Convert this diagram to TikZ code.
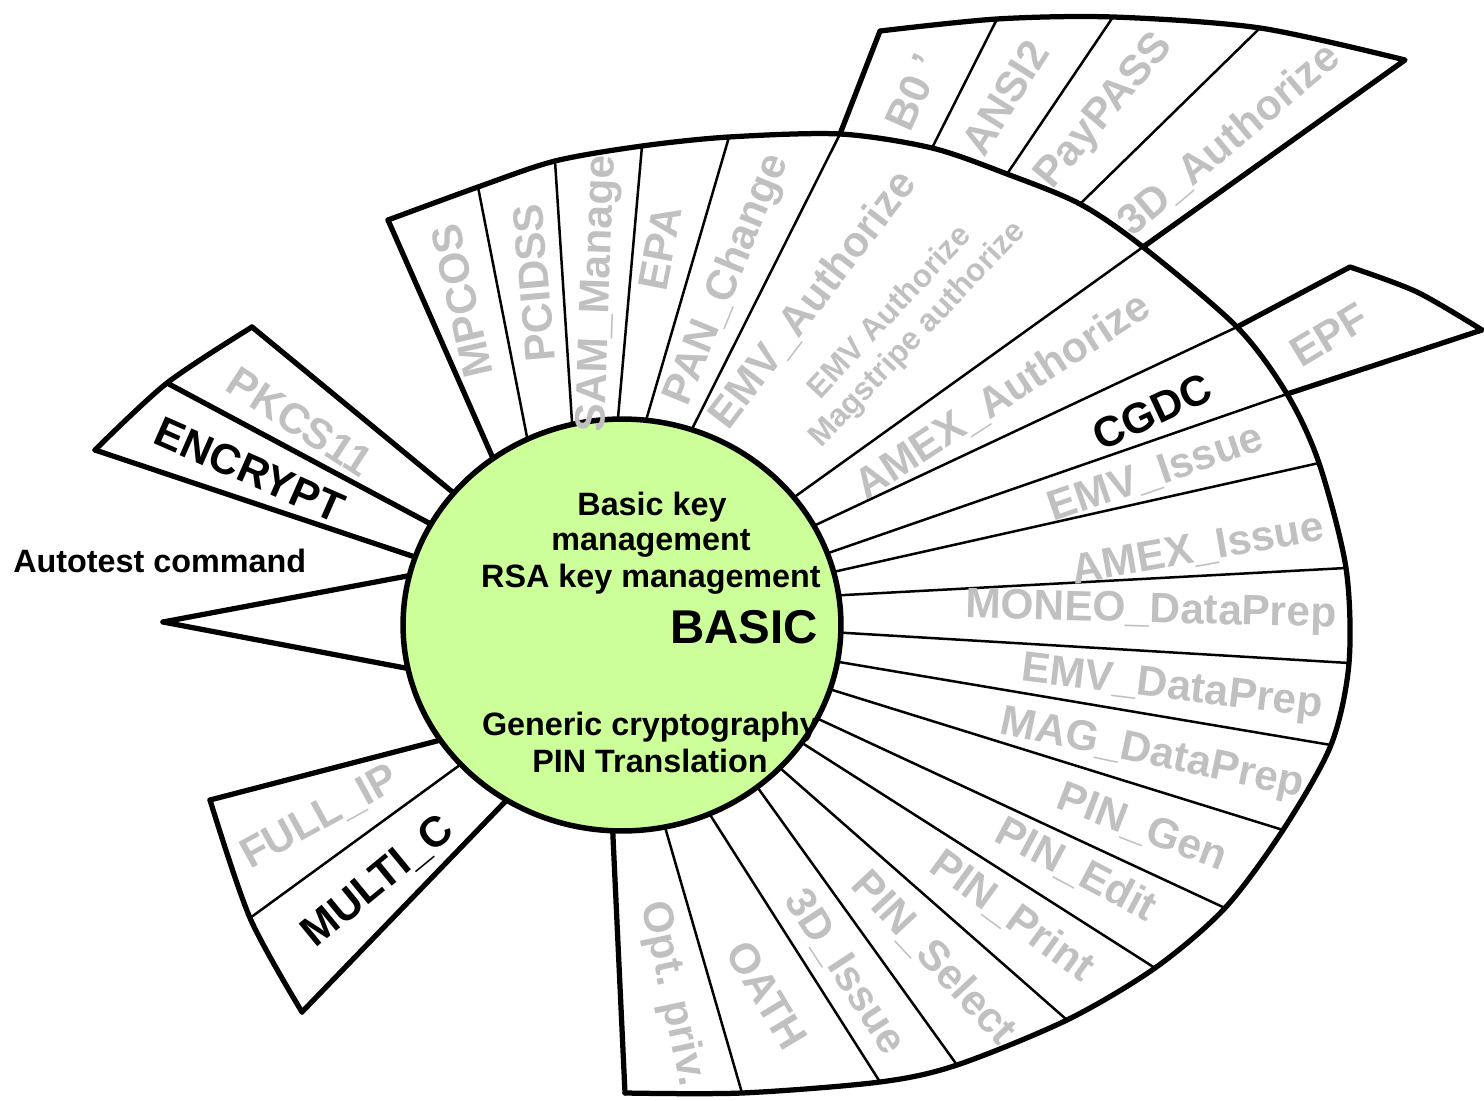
\documentclass[tikz,border=0pt]{standalone}
\usepackage{fontspec}
\setmainfont{Liberation Sans}
\definecolor{lblgray}{RGB}{192,192,192}
\definecolor{corefill}{RGB}{204,255,153}
\begin{document}
\begin{tikzpicture}[x=0.02cm, y=-0.02cm,
  edgeheavy/.style={line width=0.105cm, line join=round, line cap=round},
  edgefine/.style={line width=0.05cm},
  inward/.style={shorten <=-0.3cm},
  cmdlabel/.style={text=lblgray, font=\bfseries\fontsize{24.2}{28}\selectfont, inner sep=0pt},
  cmdactive/.style={text=black, font=\bfseries\fontsize{24.2}{28}\selectfont, inner sep=0pt},
  sublabel/.style={text=lblgray, font=\bfseries\fontsize{18}{21}\selectfont, inner sep=0pt},
  corelabel/.style={text=black, font=\bfseries\fontsize{18.4}{21}\selectfont, inner sep=0pt, anchor=base},
]
\useasboundingbox (0,0) rectangle (1484,1101);

% ---------- points on the outer rim of the fan ----------
\coordinate (o1) at (388,220);
\coordinate (o2) at (478,187);
\coordinate (o3) at (555,161);
\coordinate (o4) at (642,146);
\coordinate (o5) at (729,137);
\coordinate (o6) at (840,134);
\coordinate (o7) at (932,148);
\coordinate (o8) at (1007,174);
\coordinate (o9) at (1080,204);
\coordinate (o10) at (1143,247);
\coordinate (o11) at (1237,327);
\coordinate (o12) at (1287,394);
\coordinate (o13) at (1319,463);
\coordinate (o14) at (1346,568);
\coordinate (o16) at (1349,663);
\coordinate (o17) at (1331,745);
\coordinate (o18) at (1283,830);
\coordinate (o19) at (1225,908);
\coordinate (o20) at (1155,968);
\coordinate (o21) at (1067,1020);
\coordinate (o22) at (957,1065);
\coordinate (o23) at (880,1082);
\coordinate (o24) at (742,1093);
\coordinate (o25) at (625,1093);

% ---------- points where the spokes meet the core ----------
\coordinate (i1) at (488,447);
\coordinate (i2) at (527,437);
\coordinate (i3) at (572,422);
\coordinate (i4) at (618,418);
\coordinate (i5) at (647,417);
\coordinate (i6) at (693,427);
\coordinate (i10) at (800,493);
\coordinate (i11) at (822,522);
\coordinate (i12) at (837,550);
\coordinate (i13) at (842,570);
\coordinate (i14) at (845,595);
\coordinate (i16) at (847,633);
\coordinate (i17) at (845,663);
\coordinate (i18) at (842,693);
\coordinate (i19) at (827,723);
\coordinate (i20) at (810,748);
\coordinate (i21) at (788,775);
\coordinate (i22) at (763,795);
\coordinate (i23) at (714,821);
\coordinate (i24) at (667,834);
\coordinate (i25) at (613,837);

% ---------- thin spokes ----------
\foreach \k in {2,3,4,5,6,10,11,12,13,14,16,17,18,19,20,21,22,23,24}
  \draw[edgefine, inward] (i\k) -- (o\k);

% ---------- heavy side edges of the fan ----------
\draw[edgeheavy, inward] (i1) -- (o1);
\draw[edgeheavy, inward] (i25) -- (o25);

% ---------- outer rim ----------
\draw[edgeheavy] plot[smooth, tension=0.5] coordinates {(o1) (o2) (o3) (o4) (o5) (o6) (o7) (o8) (o9) (o10) (o11) (o12) (o13) (o14) (o16) (o17) (o18) (o19) (o20) (o21) (o22) (o23) (o24) (o25)};

% ---------- upper extension box ----------
\coordinate (b1) at (880,31);
\coordinate (b2) at (997,19);
\coordinate (b3) at (1113,17);
\coordinate (b4) at (1260,28);
\coordinate (b5) at (1405,60);
\draw[edgefine] (o7) -- (b2);
\draw[edgefine] (o8) -- (b3);
\draw[edgefine] (o9) -- (b4);
\draw[edgeheavy] (o6) -- (b1) plot[smooth, tension=0.5] coordinates {(b1) (b2) (b3) (b4) (b5)} -- (o10);

% ---------- EPF box ----------
\coordinate (e1) at (1350,267);
\coordinate (e2) at (1417,292);
\coordinate (e3) at (1482,330);
\draw[edgeheavy] (o11) -- (e1) plot[smooth, tension=0.5] coordinates {(e1) (e2) (e3)} -- (o12);

% ---------- PKCS11 / ENCRYPT box ----------
\coordinate (p1in) at (450,490);
\coordinate (p2in) at (427,522);
\coordinate (p3in) at (403,553);
\coordinate (p1) at (252,327);
\coordinate (p2) at (167,383);
\coordinate (p3) at (95,450);
\draw[edgeheavy, inward] (p1in) -- (p1);
\draw[edgeheavy, inward] (p2in) -- (p2);
\draw[edgeheavy, inward] (p3in) -- (p3);
\draw[edgeheavy] plot[smooth, tension=0.5] coordinates {(p1) (p2) (p3)};

% ---------- autotest wedge ----------
\coordinate (a1) at (402,577);
\coordinate (a2) at (400,667);
\coordinate (atip) at (163,622);
\draw[edgeheavy, inward] (a1) -- (atip);
\draw[edgeheavy, inward] (a2) -- (atip);

% ---------- FULL_IP / MULTI_C box ----------
\coordinate (f1in) at (433,742);
\coordinate (f2in) at (453,770);
\coordinate (f3in) at (500,807);
\coordinate (f1) at (210,800);
\coordinate (f2) at (250,918);
\coordinate (f3) at (302,1012);
\draw[edgeheavy, inward] (f1in) -- (f1);
\draw[edgefine, inward] (f2in) -- (f2);
\draw[edgeheavy, inward] (f3in) -- (f3);
\draw[edgeheavy] plot[smooth, tension=0.5] coordinates {(f1) (f2) (f3)};

% ---------- core ----------
\fill[corefill] (622,625) ellipse [x radius=4.38cm, y radius=4.12cm];
\node[corelabel] (k1) at (652,515) {Basic key};
\node[corelabel] (k2) at (651,550) {management};
\node[corelabel] (k3) at (651,587) {RSA key management};
\node[corelabel, font=\bfseries\fontsize{27}{30}\selectfont] (k4) at (744,643) {BASIC};
\node[corelabel] (k5) at (650,735) {Generic cryptography};
\node[corelabel] (k6) at (650,772) {PIN Translation};
\draw[line width=0.11cm] (622,625) ellipse [x radius=4.38cm, y radius=4.12cm];

\node[corelabel, anchor=base west] (auto) at (13,572) {Autotest command};

% ---------- command labels, right side ----------
\node[cmdlabel, rotate=-1.5] (moneo) at (1151,612) {MONEO\_DataPrep};
\node[cmdlabel, rotate=10] (amexi) at (1198,550) {AMEX\_Issue};
\node[cmdlabel, rotate=19] (emvi) at (1156,474) {EMV\_Issue};
\node[cmdactive, rotate=25] (cgdc) at (1152,412) {CGDC};
\node[cmdlabel, rotate=33] (amexa) at (1003,396) {AMEX\_Authorize};
\node[cmdlabel, rotate=-7] (emvdp) at (1172,689) {EMV\_DataPrep};
\node[cmdlabel, rotate=-12] (magdp) at (1152,755) {MAG\_DataPrep};
\node[cmdlabel, rotate=-21] (pgen) at (1142,828) {PIN\_Gen};
\node[cmdlabel, rotate=-28] (pedit) at (1076,870) {PIN\_Edit};
\node[cmdlabel, rotate=-36] (pprint) at (1012,916) {PIN\_Print};
\node[cmdlabel, rotate=-47] (psel) at (934,958) {PIN\_Select};
\node[cmdlabel, rotate=-57] (dissue) at (845,972) {3D\_Issue};
\node[cmdlabel, rotate=-59] (oath) at (767,995) {OATH};
\node[cmdlabel, rotate=-78] (optpriv) at (672,994) {Opt. priv.};

% ---------- command labels, top ----------
\node[cmdlabel, rotate=52.5] (emva) at (813,300) {EMV\_Authorize};
\node[sublabel, rotate=47] (emvsub) at (888,311) {EMV Authorize};
\node[sublabel, rotate=46.5] (magsub) at (918,335) {Magstripe authorize};
\node[cmdlabel, rotate=67.7] (pan) at (728,280) {PAN\_Change};
\node[cmdlabel, rotate=79] (epa) at (660,248) {EPA};
\node[cmdlabel, rotate=88] (sam) at (599,294) {SAM\_Manage};
\node[cmdlabel, rotate=95] (pci) at (534,283) {PCIDSS};
\node[cmdlabel, rotate=103] (mpcos) at (462,301) {MPCOS};
\node[cmdlabel, rotate=66] (bzero) at (913,92) {B0 '};
\node[cmdlabel, rotate=58] (ansi) at (1005,98) {ANSI2};
\node[cmdlabel, rotate=50] (paypass) at (1105,112) {PayPASS};
\node[cmdlabel, rotate=40] (dauth) at (1229,140) {3D\_Authorize};
\node[cmdlabel, rotate=31] (epf) at (1329,335) {EPF};

% ---------- command labels, left side ----------
\node[cmdlabel, rotate=-33] (pkcs) at (300,422) {PKCS11};
\node[cmdactive, rotate=-23.7] (encrypt) at (250,470) {ENCRYPT};
\node[cmdlabel, rotate=28.7] (fullip) at (320,818) {FULL\_IP};
\node[cmdactive, rotate=39.4] (multic) at (378,882) {MULTI\_C};
\end{tikzpicture}
\end{document}
